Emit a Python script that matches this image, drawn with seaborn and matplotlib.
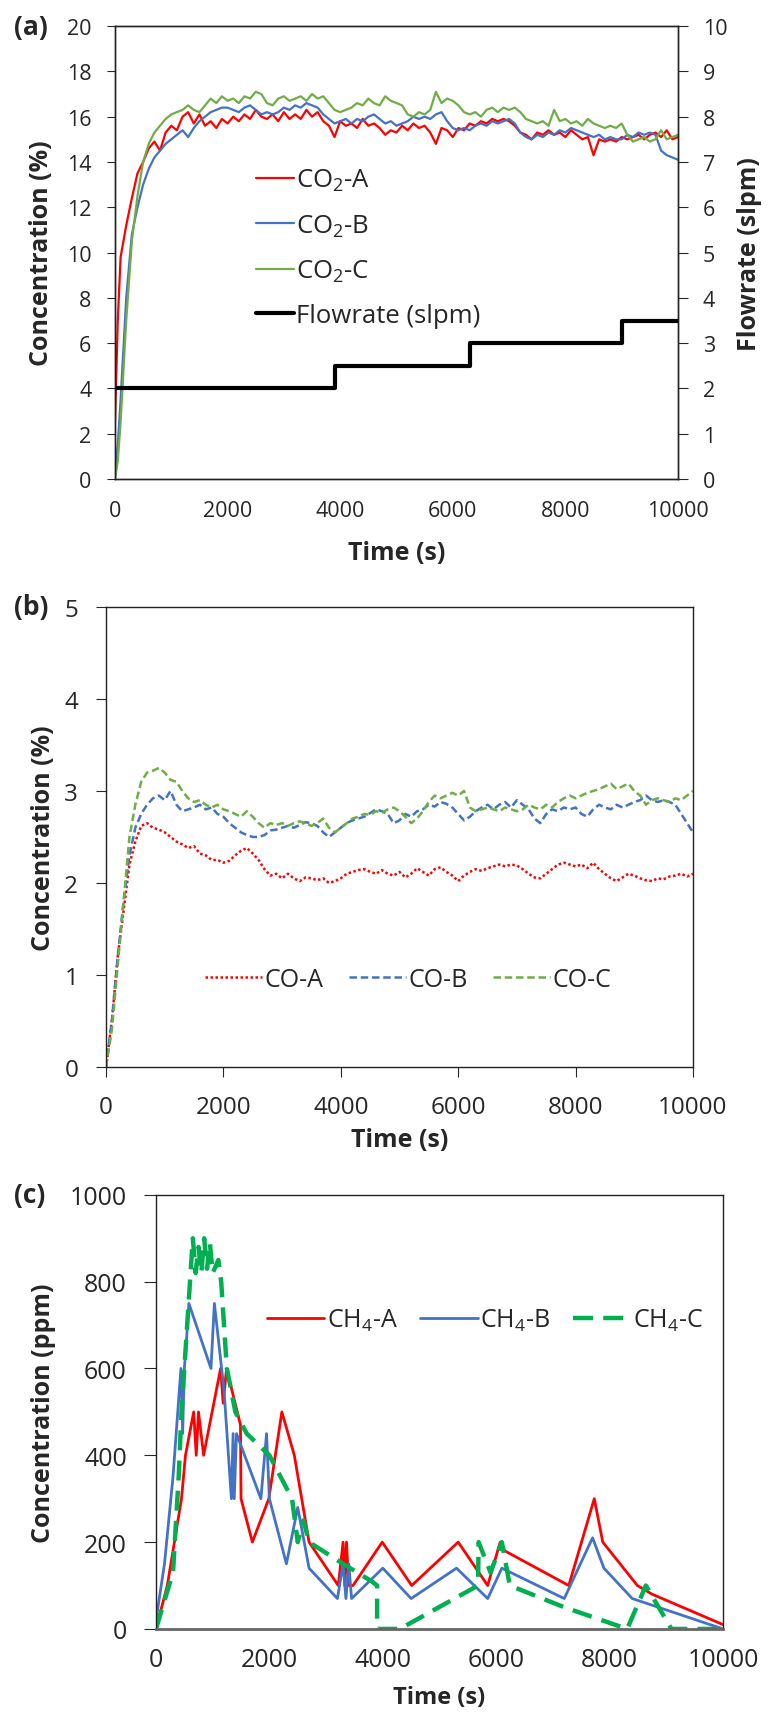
import numpy as np
import pandas as pd
import matplotlib
matplotlib.use('Agg')
import matplotlib.pyplot as plt
import seaborn as sns

sns.set_style('ticks')
plt.rcParams['font.family'] = ['Open Sans', 'DejaVu Sans']
plt.rcParams['mathtext.default'] = 'regular'

# ---------------- dados (a): CO2 e vazão ----------------
t_a = [0, 50] + list(range(100, 10001, 100))
co2_a = [2.5, 7.0,
         9.8, 11.2, 12.4, 13.5, 14.0, 14.6, 14.9, 14.5, 15.3, 15.6,
         15.4, 16.0, 16.2, 15.7, 16.1, 15.6, 15.8, 15.5, 15.9, 15.7,
         16.0, 15.8, 16.1, 15.9, 16.3, 16.0, 15.9, 16.1, 15.8, 16.2,
         15.9, 16.1, 15.9, 16.3, 16.0, 16.2, 15.8, 15.6, 15.1, 15.8,
         15.6, 15.7, 15.5, 15.9, 15.6, 15.7, 15.5, 15.2, 15.4, 15.3,
         15.6, 15.4, 15.7, 15.5, 15.6, 15.3, 14.8, 15.5, 15.4, 15.1,
         15.5, 15.4, 15.7, 15.6, 15.8, 15.7, 15.9, 15.8, 15.9, 15.8,
         15.6, 15.3, 15.2, 15.0, 15.3, 15.2, 15.4, 15.2, 15.3, 15.1,
         15.4, 15.2, 15.0, 15.1, 14.3, 15.0, 14.9, 15.0, 14.9, 15.1,
         15.0, 15.1, 15.2, 15.0, 15.2, 15.3, 15.1, 15.4, 15.0, 15.1]
co2_b = [0.3, 1.5,
         3.5, 8.0, 10.8, 12.0, 13.0, 13.7, 14.2, 14.5, 14.8, 15.0,
         15.2, 15.4, 15.1, 15.5, 15.8, 16.0, 16.2, 16.3, 16.4, 16.4,
         16.3, 16.2, 16.4, 16.5, 16.3, 16.1, 16.2, 16.1, 16.2, 16.4,
         16.3, 16.5, 16.4, 16.6, 16.5, 16.4, 16.1, 15.9, 15.7, 15.8,
         15.9, 15.7, 15.9, 15.8, 16.0, 16.1, 15.9, 15.7, 15.8, 15.6,
         15.7, 15.8, 16.0, 15.9, 16.0, 15.9, 16.1, 16.2, 15.8, 15.5,
         15.4, 15.5, 15.4, 15.6, 15.7, 15.6, 15.8, 15.7, 15.8, 15.9,
         15.7, 15.3, 15.1, 15.0, 15.2, 15.1, 15.3, 15.2, 15.4, 15.3,
         15.5, 15.4, 15.3, 15.2, 15.1, 15.2, 15.0, 15.1, 15.0, 15.0,
         15.2, 15.1, 15.3, 15.2, 15.3, 15.2, 14.5, 14.3, 14.2, 14.1]
co2_c = [0.0, 0.8,
         2.5, 7.0, 10.5, 12.5, 14.0, 14.8, 15.3, 15.6, 15.9, 16.1,
         16.2, 16.3, 16.5, 16.3, 16.2, 16.5, 16.8, 16.6, 16.9, 16.7,
         16.8, 16.6, 16.9, 16.8, 17.1, 17.0, 16.6, 16.5, 16.8, 16.9,
         16.7, 16.8, 16.9, 16.7, 17.0, 16.8, 16.9, 16.6, 16.3, 16.2,
         16.3, 16.4, 16.6, 16.5, 16.8, 16.6, 16.5, 16.9, 16.7, 16.6,
         16.5, 16.1, 16.0, 16.2, 16.1, 16.3, 17.1, 16.6, 16.8, 16.7,
         16.5, 16.2, 16.1, 16.2, 16.0, 16.3, 16.4, 16.2, 16.4, 16.3,
         16.4, 16.2, 15.9, 15.8, 15.7, 15.8, 15.6, 16.3, 15.8, 15.9,
         15.7, 15.8, 15.6, 15.9, 15.7, 15.6, 15.5, 15.6, 15.5, 15.7,
         15.2, 14.9, 15.0, 15.1, 14.9, 15.0, 15.4, 15.0, 15.1, 15.2]
flow_t = [0, 3900, 6300, 9000, 10000]
flow = [2.0, 2.5, 3.0, 3.5, 3.5]

# ---------------- dados (b): CO ----------------
t_b = list(range(0, 10001, 100))
co_a = [0.0,
        0.5, 1.2, 1.7, 2.2, 2.45, 2.62, 2.65, 2.6, 2.58, 2.55,
        2.5, 2.45, 2.42, 2.38, 2.4, 2.32, 2.3, 2.25, 2.25, 2.22,
        2.24, 2.3, 2.35, 2.38, 2.32, 2.25, 2.15, 2.08, 2.1, 2.05,
        2.1, 2.05, 2.02, 2.06, 2.05, 2.03, 2.05, 2.0, 2.02, 2.05,
        2.1, 2.12, 2.14, 2.15, 2.12, 2.1, 2.14, 2.1, 2.08, 2.12,
        2.06, 2.1, 2.16, 2.12, 2.08, 2.15, 2.17, 2.12, 2.08, 2.02,
        2.08, 2.12, 2.15, 2.13, 2.16, 2.18, 2.2, 2.18, 2.2, 2.19,
        2.15, 2.1, 2.06, 2.05, 2.1, 2.15, 2.2, 2.22, 2.2, 2.18,
        2.2, 2.16, 2.22, 2.15, 2.1, 2.05, 2.02, 2.06, 2.1, 2.08,
        2.05, 2.03, 2.02, 2.05, 2.04, 2.07, 2.08, 2.1, 2.07, 2.1]
co_b = [0.0,
        0.5, 1.2, 1.8, 2.3, 2.6, 2.75, 2.85, 2.92, 2.95, 2.9,
        3.0, 2.85, 2.78, 2.8, 2.82, 2.85, 2.8, 2.82, 2.75, 2.72,
        2.65, 2.6, 2.55, 2.52, 2.5, 2.5, 2.52, 2.57, 2.58, 2.6,
        2.62, 2.6, 2.63, 2.66, 2.65, 2.62, 2.55, 2.5, 2.55, 2.6,
        2.65, 2.68, 2.7, 2.72, 2.76, 2.8, 2.78, 2.75, 2.65, 2.68,
        2.75, 2.72, 2.78, 2.8, 2.85, 2.83, 2.88, 2.86, 2.82, 2.75,
        2.68, 2.72, 2.78, 2.82, 2.85, 2.8, 2.85, 2.88, 2.82, 2.9,
        2.85, 2.8, 2.7, 2.65, 2.75, 2.8, 2.78, 2.82, 2.8, 2.82,
        2.75, 2.72, 2.8, 2.85, 2.82, 2.8, 2.85, 2.82, 2.85, 2.88,
        2.9, 2.95, 2.9, 2.88, 2.9, 2.88, 2.85, 2.75, 2.65, 2.55]
co_c = [0.0,
        0.4, 1.1, 1.8, 2.5, 2.85, 3.1, 3.2, 3.22, 3.25, 3.2,
        3.12, 3.1, 3.0, 2.92, 2.88, 2.9, 2.85, 2.82, 2.85, 2.8,
        2.78, 2.75, 2.72, 2.78, 2.72, 2.65, 2.6, 2.65, 2.63, 2.65,
        2.62, 2.65, 2.67, 2.65, 2.62, 2.65, 2.7, 2.6, 2.55, 2.6,
        2.65, 2.7, 2.72, 2.75, 2.74, 2.78, 2.76, 2.8, 2.82, 2.78,
        2.72, 2.65, 2.7, 2.78, 2.88, 2.95, 2.92, 2.95, 2.98, 2.95,
        3.0, 2.82, 2.78, 2.8, 2.82, 2.8, 2.78, 2.82, 2.8, 2.78,
        2.8, 2.85, 2.82, 2.8, 2.85, 2.82, 2.88, 2.92, 2.95, 2.92,
        2.95, 2.98, 3.0, 3.02, 3.05, 3.08, 3.02, 3.05, 3.08, 3.0,
        2.95, 2.85, 2.9, 2.92, 2.9, 2.88, 2.92, 2.9, 2.95, 3.0]

# ---------------- dados (c): CH4 ----------------
ch4a_t = [0, 200, 450, 520, 665, 710, 750, 840, 1140, 1185, 1245, 1490, 1500,
          1700, 1990, 2220, 2440, 2570, 2700, 3215, 3300, 3330, 3360, 3400, 3475,
          3990, 4510, 5330, 5850, 6070, 6150, 7280, 7730, 7880, 8490, 8750, 10000]
ch4a = [0, 100, 300, 400, 500, 400, 500, 400, 600, 520, 600, 470, 300,
        200, 300, 500, 400, 300, 200, 100, 200, 100, 200, 100, 100,
        200, 100, 200, 100, 200, 180, 100, 300, 200, 100, 80, 10]
ch4b_t = [0, 150, 300, 440, 470, 500, 530, 580, 970, 1030, 1200, 1330, 1360, 1380,
          1420, 1850, 1950, 2000, 2300, 2500, 2700, 3200, 3300, 3350, 3400, 3450,
          4000, 4500, 5300, 5850, 6100, 7200, 7700, 7900, 8400, 10000]
ch4b = [20, 150, 350, 600, 450, 600, 650, 750, 600, 750, 550, 300, 450, 300,
        450, 300, 450, 300, 150, 280, 140, 70, 150, 70, 150, 70,
        140, 70, 140, 70, 140, 70, 210, 140, 70, 0]
ch4c_t = [0, 300, 400, 450, 500, 600, 650, 700, 750, 800, 850, 900, 950, 1000,
          1100, 1150, 1250, 1400, 1600, 2000, 2400, 2500, 2600, 2700, 3300, 3800,
          3900, 3900, 4000, 4300, 5680, 5690, 5900, 6100, 6240, 7200, 8310, 8640,
          9090, 10000]
ch4c = [0, 130, 350, 500, 600, 800, 900, 820, 880, 820, 900, 830, 890, 820,
        850, 800, 600, 500, 450, 400, 300, 200, 250, 200, 150, 110,
        100, 0, 0, 0, 100, 200, 130, 200, 100, 50, 0, 100,
        0, 0]

RED = '#FF0000'
BLUE = '#4472C4'
GREEN = '#70AD47'
GREEN2 = '#00B050'

fig = plt.figure(figsize=(7.68, 17.15), dpi=100)
ax_a = fig.add_axes([0.1497, 0.7201, 0.7331, 0.2641])
ax_b = fig.add_axes([0.1380, 0.3773, 0.7643, 0.2682])
ax_c = fig.add_axes([0.2031, 0.0496, 0.7383, 0.2531])

lab_kw = dict(fontsize=18, fontweight='bold')

# ----- painel (a)
sns.lineplot(x=t_a, y=co2_a, ax=ax_a, color=RED, lw=1.6, label='CO$_2$-A',
             estimator=None, sort=False)
sns.lineplot(x=t_a, y=co2_b, ax=ax_a, color=BLUE, lw=1.6, label='CO$_2$-B',
             estimator=None, sort=False)
sns.lineplot(x=t_a, y=co2_c, ax=ax_a, color=GREEN, lw=1.6, label='CO$_2$-C',
             estimator=None, sort=False)
ax_a2 = ax_a.twinx()
sns.lineplot(x=flow_t, y=flow, ax=ax_a2, color='black', lw=3,
             drawstyle='steps-post', label='Flowrate (slpm)',
             estimator=None, sort=False)
ax_a.set_xlim(0, 10000)
ax_a.set_ylim(0, 20)
ax_a2.set_ylim(0, 10)
ax_a.set_yticks(range(0, 21, 2))
ax_a2.set_yticks(range(0, 11))
ax_a.set_xticks(range(0, 10001, 2000))
ax_a.tick_params(axis='y', labelsize=15.5, length=6, pad=11)
ax_a.tick_params(axis='x', labelsize=15.5, length=0, pad=15)
ax_a2.tick_params(labelsize=15.5, length=7, pad=11)
ax_a.set_xlabel('Time (s)', **lab_kw)
ax_a.set_ylabel('Concentration (%)', **lab_kw)
ax_a2.set_ylabel('Flowrate (slpm)', **lab_kw)
ax_a.xaxis.set_label_coords(0.5, -0.135)
ax_a.yaxis.set_label_coords(-0.108, 0.5)
ax_a2.yaxis.set_label_coords(1.105, 0.5)
h1, l1 = ax_a.get_legend_handles_labels()
h2, l2 = ax_a2.get_legend_handles_labels()
ax_a.get_legend().remove()
ax_a2.get_legend().remove()
ax_a2.legend(h1 + h2, l1 + l2, loc='upper left', bbox_to_anchor=(0.21, 0.74),
             frameon=False, fontsize=18.5, handlelength=1.45, handletextpad=0.1,
             labelspacing=0.75)

# ----- painel (b)
sns.lineplot(x=t_b, y=co_a, ax=ax_b, color=RED, lw=1.8, ls=(0, (1, 1)),
             label='CO-A', estimator=None, sort=False)
sns.lineplot(x=t_b, y=co_b, ax=ax_b, color=BLUE, lw=1.8, ls=(0, (3, 1.5)),
             label='CO-B', estimator=None, sort=False)
sns.lineplot(x=t_b, y=co_c, ax=ax_b, color=GREEN, lw=1.8, ls=(0, (3, 1.5)),
             label='CO-C', estimator=None, sort=False)
ax_b.set_xlim(0, 10000)
ax_b.set_ylim(0, 5)
ax_b.set_yticks(range(0, 6))
ax_b.set_xticks(range(0, 10001, 2000))
ax_b.tick_params(labelsize=17.5, length=7, pad=13)
ax_b.set_xlabel('Time (s)', **lab_kw)
ax_b.set_ylabel('Concentration (%)', **lab_kw)
ax_b.xaxis.set_label_coords(0.5, -0.13)
ax_b.yaxis.set_label_coords(-0.085, 0.5)
ax_b.legend(loc='center', bbox_to_anchor=(0.515, 0.19), ncol=3, frameon=False,
            fontsize=18, handlelength=2.3, handletextpad=0.1, columnspacing=1.0)

# ----- painel (c)
sns.lineplot(x=ch4a_t, y=ch4a, ax=ax_c, color=RED, lw=2.0, label='CH$_4$-A',
             estimator=None, sort=False)
sns.lineplot(x=ch4b_t, y=ch4b, ax=ax_c, color=BLUE, lw=2.0, label='CH$_4$-B',
             estimator=None, sort=False)
sns.lineplot(x=ch4c_t, y=ch4c, ax=ax_c, color=GREEN2, lw=3.2,
             ls=(0, (4.5, 2.3)), label='CH$_4$-C', estimator=None, sort=False)
ax_c.set_xlim(0, 10000)
ax_c.set_ylim(0, 1000)
ax_c.set_yticks(range(0, 1001, 200))
ax_c.set_xticks(range(0, 10001, 2000))
ax_c.tick_params(axis='y', labelsize=18, length=9, pad=12)
ax_c.tick_params(axis='x', labelsize=18, length=0, pad=13)
ax_c.set_xlabel('Time (s)', fontsize=17, fontweight='bold')
ax_c.set_ylabel('Concentration (ppm)', **lab_kw)
ax_c.xaxis.set_label_coords(0.5, (1630 - 1710) / 434)
ax_c.xaxis.label.set_verticalalignment('bottom')
ax_c.yaxis.set_label_coords(-0.176, 0.5)
ax_c.legend(loc='center', bbox_to_anchor=(0.58, 0.712), ncol=3, frameon=False,
            fontsize=18, handlelength=2.3, handletextpad=0.1, columnspacing=0.9)

for ax in (ax_a, ax_a2, ax_b, ax_c):
    for s in ax.spines.values():
        s.set_visible(True)
        s.set_linewidth(1.0)
        s.set_color('#222222')
ax_c.spines['bottom'].set_color('#666666')
ax_c.spines['bottom'].set_linewidth(2.0)

# rótulos dos painéis
fig.text(0.018, 1 - 27 / 1715, '(a)', fontsize=19, fontweight='bold', va='center')
fig.text(0.018, 1 - 608 / 1715, '(b)', fontsize=19, fontweight='bold', va='center')
fig.text(0.018, 1 - 1196 / 1715, '(c)', fontsize=19, fontweight='bold', va='center')

fig.savefig('out.png', dpi=100)
